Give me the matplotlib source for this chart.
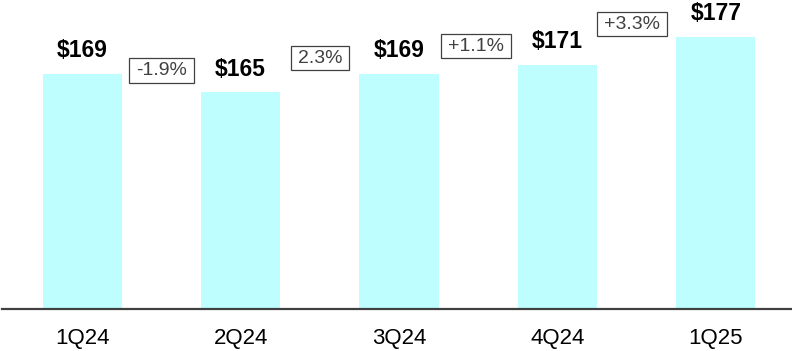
#!/usr/bin/env python3
# quarterly bar chart with sequential change boxes

import matplotlib
matplotlib.use("Agg")
import matplotlib.pyplot as plt
import numpy as np

quarters = ["1Q24", "2Q24", "3Q24", "4Q24", "1Q25"]
values = [169, 165, 169, 171, 177]
value_labels = ["$169", "$165", "$169", "$171", "$177"]
changes = ["-1.9%", "2.3%", "+1.1%", "+3.3%"]

# where the change boxes sit (data coords)
change_x = [0.5, 1.5, 2.485, 3.47]
change_y = [169.75, 172.4, 175.0, 179.8]

plt.rcParams["font.family"] = ["Liberation Sans", "DejaVu Sans"]


def plot(ax):
    x = np.arange(len(quarters))
    ax.bar(x, values, width=0.5, color="#BEFEFE", zorder=2)

    for xi, v, lab in zip(x, values, value_labels):
        ax.annotate(lab, (xi, v), xytext=(0, 16.5), textcoords="offset pixels",
                    ha="center", va="baseline", fontsize=16.5,
                    fontweight="bold", color="black")

    for cx, cy, txt in zip(change_x, change_y, changes):
        ax.text(cx, cy, txt, ha="center", va="center", fontsize=14,
                color="#404040",
                bbox=dict(boxstyle="square,pad=0.35", mutation_aspect=0.55,
                          facecolor="white", edgecolor="#404040", linewidth=0.9))

    ax.set_xlim(-0.506, 4.481)
    ax.set_ylim(117.8, 185.05)
    ax.set_xticks(x)
    ax.set_xticklabels(quarters, fontsize=16)
    ax.set_yticks([])
    ax.tick_params(axis="x", length=0, pad=14)
    for side in ["left", "right", "top"]:
        ax.spines[side].set_visible(False)
    ax.spines["bottom"].set_color("#404040")
    ax.spines["bottom"].set_linewidth(1.6)
    ax.spines["bottom"].set_zorder(3)


def main():
    fig = plt.figure(figsize=(7.92, 3.51), dpi=100)
    ax = fig.add_axes([2 / 792, 42 / 351, 790 / 792, 309 / 351])
    plot(ax)
    fig.savefig("out.png", dpi=100, facecolor="white")


if __name__ == "__main__":
    main()
